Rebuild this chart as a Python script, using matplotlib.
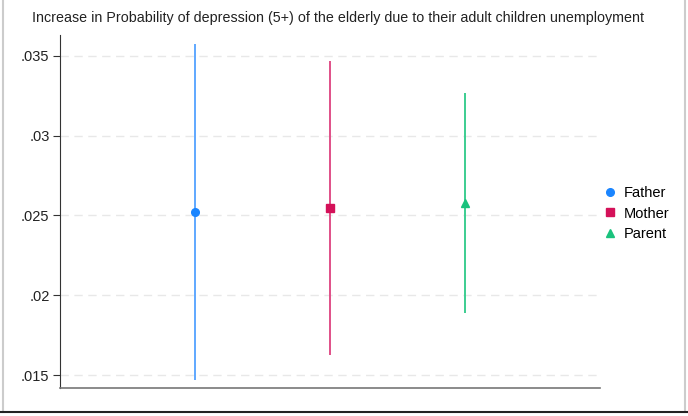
import matplotlib
matplotlib.use('Agg')
import matplotlib.pyplot as plt
from matplotlib.lines import Line2D

plt.rcParams['font.family'] = ['Liberation Sans', 'DejaVu Sans']

groups = ['Father', 'Mother', 'Parent']
estimates = [0.02519, 0.02544, 0.02581]
ci_low = [0.01469, 0.01625, 0.01888]
ci_high = [0.03575, 0.03469, 0.03269]
positions = [1, 2, 3]

colors = ['#1a85ff', '#d41159', '#1ac27d']
line_colors = ['#5fa8ff', '#e05088', '#3ccd91']
markers = ['o', 's', '^']

yticks = [0.015, 0.02, 0.025, 0.03, 0.035]
ytick_labels = ['.015', '.02', '.025', '.03', '.035']

fig = plt.figure(figsize=(6.88, 4.16), dpi=100)
ax = fig.add_axes([0.0872, 0.0673, 0.7849, 0.8487])

for i in range(len(groups)):
    ax.vlines(positions[i], ci_low[i], ci_high[i], color=line_colors[i], lw=1.4, zorder=2)
    ax.plot(positions[i], estimates[i], marker=markers[i], color=colors[i],
            ms=5.5, ls='none', label=groups[i], zorder=3)

ax.set_xlim(0, 4)
ax.set_ylim(0.01419, 0.03631)
ax.set_yticks(yticks)
ax.set_yticklabels(ytick_labels, fontsize=10.5)
ax.set_xticks([])
ax.grid(axis='y', color='#e8e8e8', ls=(0, (6, 4)), lw=1)
ax.set_axisbelow(True)
for side in ['top', 'right']:
    ax.spines[side].set_visible(False)
ax.spines['left'].set_color('#333333')
ax.spines['bottom'].set_color('#777777')
ax.spines['bottom'].set_linewidth(1.2)
ax.tick_params(axis='y', length=5, pad=2.5, color='#333333', labelcolor='#222222')

fig.text(0.491, 0.957, 'Increase in Probability of depression (5+) of the elderly due to their adult children unemployment',
         ha='center', va='center', fontsize=10.3, color='#222222')

ax.legend(loc='center left', bbox_to_anchor=(1.0, 0.494), frameon=False, fontsize=10.5,
          handlelength=0.6, handletextpad=0.6, labelspacing=0.45, borderaxespad=0.0)

# frame around the exported picture
fig.add_artist(Line2D([0.005, 0.005], [0.01, 1], transform=fig.transFigure, color='#cccccc', lw=1.5))
fig.add_artist(Line2D([0.996, 0.996], [0.01, 1], transform=fig.transFigure, color='#cccccc', lw=1.5))
fig.add_artist(Line2D([0, 1], [0.01, 0.01], transform=fig.transFigure, color='#222222', lw=1.5))

fig.savefig('out.png', dpi=100)
